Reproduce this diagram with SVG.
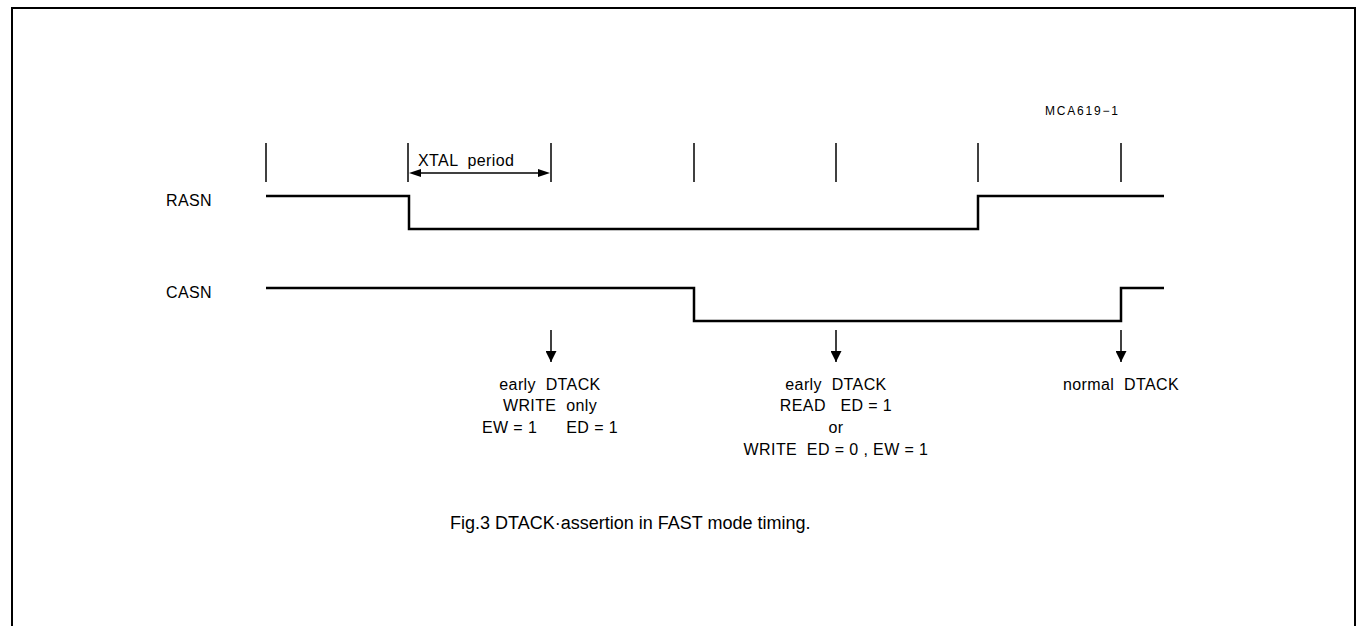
<svg xmlns="http://www.w3.org/2000/svg" width="1356" height="626" viewBox="0 0 1356 626" xml:space="preserve">
<defs>
<style>
.ln{stroke:#000;stroke-width:2;fill:none}
.tk{stroke:#000;stroke-width:1.5}
.sg{stroke:#000;stroke-width:2.5;fill:none}
text{font-family:"Liberation Sans",Arial,sans-serif;fill:#000;white-space:pre}
.lb{font-size:16px;letter-spacing:0.4px}
.c{text-anchor:middle}
</style>
<marker id="ah" viewBox="0 0 10 10" refX="10" refY="5" markerWidth="11" markerHeight="11" orient="auto" markerUnits="userSpaceOnUse">
<path d="M0,0 L10,5 L0,10 z" fill="#000"/>
</marker>
</defs>
<rect width="1356" height="626" fill="#fff"/>
<g id="frame">
<path class="ln" d="M12,630 V8 H1355 V630"/>
</g>
<g id="ticks">
<line class="tk" x1="266" y1="143" x2="266" y2="182"/>
<line class="tk" x1="408" y1="143" x2="408" y2="182"/>
<line class="tk" x1="551" y1="143" x2="551" y2="182"/>
<line class="tk" x1="694" y1="143" x2="694" y2="182"/>
<line class="tk" x1="836" y1="143" x2="836" y2="182"/>
<line class="tk" x1="978" y1="143" x2="978" y2="182"/>
<line class="tk" x1="1121" y1="143" x2="1121" y2="182"/>
</g>
<g id="xtal">
<line class="tk" x1="418" y1="173" x2="541" y2="173"/>
<path d="M409,173 L421,169 L421,177 z M550,173 L538,169 L538,177 z" fill="#000"/>
<text class="lb" x="418" y="166">XTAL  period</text>
</g>
<g id="rasn">
<text class="lb" x="166" y="206">RASN</text>
<path class="sg" d="M266,196 H409 V229 H978 V196 H1164"/>
</g>
<g id="casn">
<text class="lb" x="166" y="298">CASN</text>
<path class="sg" d="M266,288 H694 V321 H1121 V288 H1164"/>
</g>
<g id="connectors">
<line class="tk" x1="551" y1="330" x2="551" y2="362" marker-end="url(#ah)"/>
<line class="tk" x1="836" y1="330" x2="836" y2="362" marker-end="url(#ah)"/>
<line class="tk" x1="1121" y1="330" x2="1121" y2="362" marker-end="url(#ah)"/>
</g>
<g id="label1">
<text class="lb c" x="550" y="390">early  DTACK</text>
<text class="lb c" x="550" y="411">WRITE  only</text>
<text class="lb c" x="550" y="433">EW = 1      ED = 1</text>
</g>
<g id="label2">
<text class="lb c" x="836" y="390">early  DTACK</text>
<text class="lb c" x="836" y="411">READ   ED = 1</text>
<text class="lb c" x="836" y="433">or</text>
<text class="lb c" x="836" y="455">WRITE  ED = 0 , EW = 1</text>
</g>
<g id="label3">
<text class="lb c" x="1121" y="390">normal  DTACK</text>
</g>
<text x="1045" y="115" style="font-size:12px;letter-spacing:1.8px">MCA619−1</text>
<text x="450" y="529" style="font-size:18px">Fig.3 DTACK·assertion in FAST mode timing.</text>
</svg>
